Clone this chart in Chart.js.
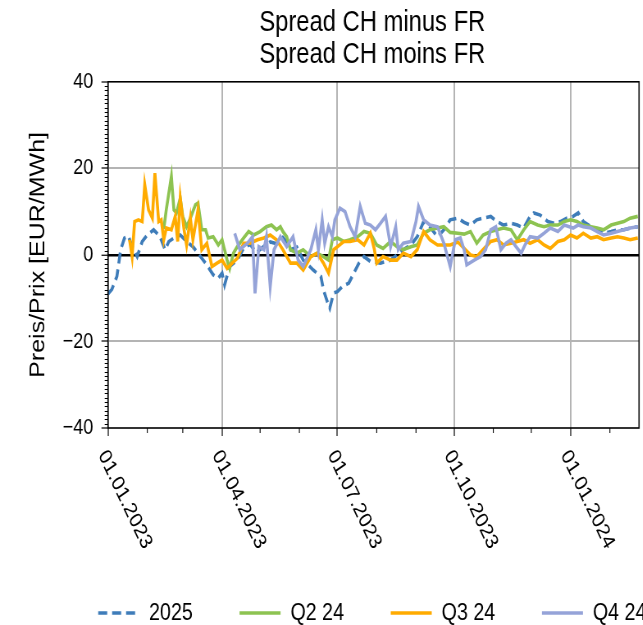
<!DOCTYPE html>
<html>
<head>
<meta charset="utf-8">
<script src="https://cdn.jsdelivr.net/npm/chart.js@4.4.1/dist/chart.umd.min.js"></script>
<style>
  html, body { margin: 0; padding: 0; overflow: hidden; background: #fff; }
  /* the reference figure is horizontally compressed, so draw wide and squeeze */
  #wrap { width: 908px; height: 635px; transform: scaleX(0.82); transform-origin: 0 0; }
</style>
</head>
<body>
<div id="wrap"><canvas id="chart" width="908" height="635"></canvas></div>
<script>
// x values are days since 01.01.2023
const majorTickDays = [0, 90, 181, 273, 365];
const majorTickLabels = ['01.01.2023', '01.04.2023', '01.07.2023', '01.10.2023', '01.01.2024'];
const minorTickDays = [31, 59, 120, 151, 212, 243, 304, 334, 396];

const days2025 = [0, 3, 7, 10, 13, 16, 19, 23, 27, 31, 36, 40, 42, 45, 48, 52, 57, 62, 67, 73, 78, 83, 87, 90, 92, 96,
  102, 107, 112, 117, 123, 128, 134, 138, 141, 144, 149, 154, 162, 168, 170, 173, 175, 178, 181, 185, 190, 194, 198,
  202, 207, 215, 223, 228, 233, 239, 244, 249, 254, 260, 265, 270, 276, 281, 286, 291, 296, 302, 307, 312, 318, 323,
  328, 333, 336, 341, 347, 352, 357, 362, 367, 371, 375, 381, 386, 391, 397, 402, 407, 412, 418];
const values2025 = [-9.0, -8.0, -5.0, 1.2, 3.9, 4.4, 1.9, -0.4, 3.1, 4.6, 5.8, 4.6, 3.5, 1.2, 3.1, 3.9, 4.6, 3.1, 1.9, -0.4,
  -2.3, -4.6, -5.4, -4.2, -6.9, -2.7, -1.2, 1.5, 2.5, 0.5, 2.0, 3.0, 2.5, 4.0, 3.0, 1.2, 1.8, -1.2, -3.5, -5.0, -8.1,
  -10.8, -12.3, -8.8, -8.5, -7.3, -6.5, -4.2, -1.9, -0.4, -1.5, -1.9, -1.2, 0.0, 1.2, 2.3, 4.2, 7.7, 6.5, 4.2, 5.8, 8.1,
  8.5, 7.5, 6.9, 8.1, 8.5, 8.9, 7.7, 6.9, 7.3, 6.9, 6.2, 8.9, 9.7, 9.2, 7.7, 7.3, 7.7, 8.5, 8.9, 9.7, 7.7, 6.5, 5.8,
  5.0, 5.4, 5.8, 5.8, 6.2, 6.5];

const daysQ2 = [44, 46, 50, 52, 54, 57, 59, 62, 65, 69, 71, 74, 77, 79, 83, 87, 90, 94, 96, 99, 102, 107, 111, 115, 120,
  125, 129, 133, 136, 138, 141, 144, 149, 154, 160, 165, 170, 174, 177, 181, 186, 191, 197, 202, 207, 212, 217, 223,
  228, 233, 239, 244, 249, 254, 260, 265, 270, 276, 281, 286, 291, 296, 302, 307, 312, 318, 323, 328, 333, 339, 344,
  349, 355, 360, 365, 370, 375, 381, 386, 391, 397, 402, 407, 412, 418];
const valuesQ2 = [6.0, 10.5, 18.1, 10.4, 9.7, 13.1, 8.9, 6.5, 8.5, 11.6, 12.0, 5.8, 5.8, 3.9, 4.2, 2.3, 3.5, -1.2, -3.1,
  0.4, 1.9, 3.9, 5.4, 4.6, 5.4, 6.5, 6.9, 5.8, 6.5, 5.4, 4.2, 1.2, 0.4, 1.2, -0.4, 0.4, -0.4, -1.2, 3.5, 3.9, 3.1, 3.5,
  4.2, 5.4, 5.0, 2.3, 1.5, 3.1, 1.9, 1.2, 1.9, 2.3, 5.0, 5.8, 6.2, 6.5, 5.2, 5.0, 4.8, 5.4, 2.7, 4.6, 5.4, 5.8, 6.2,
  5.8, 3.5, 5.8, 7.7, 6.9, 6.5, 6.9, 6.9, 7.7, 8.1, 7.7, 6.9, 6.5, 6.2, 5.8, 6.9, 7.3, 7.7, 8.5, 8.9];

const daysQ3 = [17, 19, 21, 24, 27, 29, 32, 35, 37, 40, 42, 44, 46, 50, 53, 55, 57, 60, 62, 65, 67, 71, 74, 78, 82, 86,
  90, 94, 98, 102, 107, 112, 118, 123, 128, 133, 138, 144, 149, 154, 160, 165, 170, 174, 178, 181, 186, 191, 197, 202,
  207, 210, 212, 217, 223, 228, 233, 239, 244, 249, 254, 260, 265, 270, 276, 281, 286, 291, 296, 302, 307, 312, 318,
  323, 328, 333, 339, 344, 349, 355, 360, 365, 370, 375, 381, 386, 391, 397, 402, 407, 412, 418];
const valuesQ3 = [3.5, -0.4, 7.7, 8.1, 7.7, 16.2, 10.4, 8.5, 18.9, 7.7, 8.1, 3.5, 6.2, 5.8, 8.9, 3.1, 13.1, 5.8, 2.3, 8.5,
  3.5, 10.4, 1.2, 2.7, -2.7, -1.9, -1.2, -3.1, -1.9, -0.8, 2.7, 2.7, 3.5, 3.9, 4.6, 3.5, 1.2, -1.9, -1.9, -3.5, -0.4,
  0.4, -1.9, -4.2, 1.2, 1.9, 3.1, 3.1, 3.5, 2.3, 5.0, 1.5, -1.9, -0.4, -1.2, -1.2, 0.4, -0.4, 1.2, 5.4, 3.5, 2.3, 2.3,
  2.3, 3.0, 1.5, 0.0, -0.4, 1.2, 3.1, 3.5, 2.3, 2.7, 3.1, 3.5, 2.7, 3.5, 2.3, 1.5, 3.1, 3.5, 4.6, 3.9, 5.0, 3.9, 4.2,
  3.5, 3.9, 4.2, 3.9, 3.5, 3.9];

const daysQ4 = [100, 104, 110, 114, 116, 119, 123, 125, 128, 131, 136, 141, 146, 150, 154, 160, 164, 166, 169, 171, 174,
  177, 179, 183, 187, 191, 195, 199, 203, 207, 211, 215, 219, 223, 227, 229, 233, 239, 243, 245, 249, 254, 260, 265,
  270, 274, 278, 281, 283, 289, 294, 298, 302, 306, 310, 314, 318, 322, 326, 329, 333, 339, 344, 349, 355, 360, 364,
  367, 371, 375, 381, 386, 391, 397, 402, 407, 412, 418];
const valuesQ4 = [5.0, 1.2, 2.7, 4.2, -8.9, 1.9, 1.2, 4.2, -7.3, 1.2, 4.2, 1.9, 4.2, -1.2, -2.7, 1.2, 5.8, 1.2, 8.1, 2.7,
  6.5, 4.2, 8.1, 10.8, 10.0, 6.5, 4.2, 11.2, 7.3, 6.9, 5.8, 7.3, 8.9, 1.9, 6.5, 1.2, 2.7, 3.1, 7.7, 11.2, 8.1, 6.9, 6.5,
  2.7, -2.7, 3.5, 3.9, 1.2, -2.3, -1.2, -0.4, 1.2, 5.8, 6.5, 1.2, 2.7, 3.5, 1.9, 0.4, 2.3, 4.2, 3.9, 5.0, 6.2, 5.4,
  6.9, 6.5, 6.2, 6.9, 6.5, 6.2, 5.4, 4.6, 5.0, 5.4, 5.8, 6.2, 6.5];

const seriesNames = ['2025', 'Q2 24', 'Q3 24', 'Q4 24'];
const seriesColors = ['#3e7cb9', '#8dc351', '#ffab00', '#95a3d8'];

Chart.defaults.font.family = "'Liberation Sans', Arial, sans-serif";
Chart.defaults.color = '#000';

function points(days, values) {
  return days.map((d, i) => ({ x: d, y: values[i] }));
}

// frame, minor ticks and the slanted date labels
const axisExtras = {
  id: 'axisExtras',
  afterDatasetsDraw(chart) {
    const { ctx, chartArea: a } = chart;
    ctx.save();
    ctx.strokeStyle = '#000';
    ctx.lineWidth = 1.6;
    ctx.strokeRect(a.left, a.top, a.right - a.left, a.bottom - a.top);
    ctx.restore();
  },
  afterDraw(chart) {
    const { ctx, chartArea: a } = chart;
    const xs = chart.scales.x, ys = chart.scales.y;
    ctx.save();
    ctx.strokeStyle = '#000';
    ctx.lineWidth = 1.1;
    ctx.beginPath();
    for (let v = -40; v <= 40; v++) {
      if (v % 20 === 0) continue;
      const py = Math.round(ys.getPixelForValue(v)) + 0.5;
      ctx.moveTo(a.left - 4, py);
      ctx.lineTo(a.left, py);
    }
    minorTickDays.forEach(d => {
      const px = xs.getPixelForValue(d);
      ctx.moveTo(px, a.bottom);
      ctx.lineTo(px, a.bottom + 5);
    });
    ctx.stroke();

    ctx.fillStyle = '#000';
    ctx.font = "22px 'Liberation Sans', Arial, sans-serif";
    ctx.textAlign = 'left';
    ctx.textBaseline = 'middle';
    majorTickDays.forEach((d, i) => {
      const px = xs.getPixelForValue(d);
      ctx.save();
      ctx.translate(px - 7, a.bottom + 24);
      ctx.rotate(Math.PI / 3);
      ctx.fillText(majorTickLabels[i], 0, 0);
      ctx.restore();
    });
    ctx.restore();
  }
};

const lineWidth = 3.6;

new Chart(document.getElementById('chart'), {
  type: 'line',
  data: {
    datasets: [
      { label: seriesNames[0], data: points(days2025, values2025), borderColor: seriesColors[0], borderDash: [11, 6], order: 4 },
      { label: seriesNames[1], data: points(daysQ2, valuesQ2), borderColor: seriesColors[1], order: 3 },
      { label: seriesNames[2], data: points(daysQ3, valuesQ3), borderColor: seriesColors[2], order: 2 },
      { label: seriesNames[3], data: points(daysQ4, valuesQ4), borderColor: seriesColors[3], order: 1 }
    ].map(ds => Object.assign({ borderWidth: lineWidth, pointRadius: 0, tension: 0, fill: false, backgroundColor: ds.borderColor }, ds))
  },
  options: {
    responsive: false,
    animation: false,
    events: [],
    layout: { padding: 0 },
    scales: {
      x: {
        type: 'linear',
        min: 0,
        max: 419,
        afterBuildTicks: s => { s.ticks = majorTickDays.map(v => ({ value: v })); },
        afterFit: s => { s.height = 116; },
        ticks: { display: false },
        grid: { color: '#b4b4b4', lineWidth: 2, tickColor: '#000', tickLength: 8, tickWidth: 1.2 },
        border: { display: false }
      },
      y: {
        min: -40,
        max: 40,
        afterFit: s => { s.width = 131.7; },
        ticks: {
          stepSize: 20,
          padding: 10,
          font: { size: 22 },
          callback: v => String(v).replace('-', '\u2212')
        },
        grid: {
          color: c => c.tick.value === 0 ? '#000' : (Math.abs(c.tick.value) === 40 ? 'rgba(0,0,0,0)' : '#b4b4b4'),
          lineWidth: c => c.tick.value === 0 ? 2.5 : 2,
          tickColor: '#000',
          tickLength: 8,
          tickWidth: 1.2
        },
        border: { display: false },
        title: { display: true, text: 'Preis/Prix [EUR/MWh]', font: { size: 25 }, padding: { top: 32, bottom: 0 } }
      },
      spare: {
        type: 'linear',
        position: 'right',
        afterFit: s => { s.width = 908 - 779.3; },
        ticks: { display: false },
        grid: { display: false },
        border: { display: false }
      }
    },
    plugins: {
      title: {
        display: true,
        text: ['Spread CH minus FR', 'Spread CH moins FR'],
        font: { size: 29, weight: 'normal', lineHeight: 1.1 },
        padding: { top: 7, bottom: 11 }
      },
      legend: {
        position: 'bottom',
        labels: {
          usePointStyle: true,
          pointStyle: 'line',
          pointStyleWidth: 50,
          font: { size: 24 },
          padding: 57,
          sort: (a, b) => a.datasetIndex - b.datasetIndex,
          generateLabels: chart => Chart.defaults.plugins.legend.labels.generateLabels(chart).map(item => {
            const ds = chart.data.datasets[item.datasetIndex];
            item.lineDash = ds.borderDash || [];
            item.lineWidth = lineWidth;
            item.strokeStyle = ds.borderColor;
            return item;
          })
        }
      },
      tooltip: { enabled: false }
    }
  },
  plugins: [axisExtras]
});
</script>
</body>
</html>
